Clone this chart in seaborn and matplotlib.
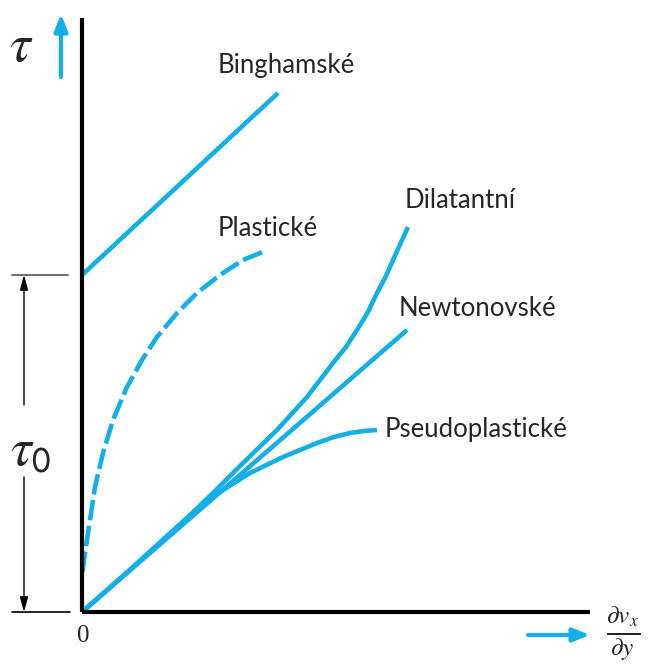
import numpy as np
import pandas as pd
import matplotlib.pyplot as plt
import seaborn as sns

# flow curves, shear rate (x) vs shear stress (y)
bingham_x = [0.0, 19.6]
bingham_y = [33.7, 51.9]

plastic_x = [0.05, 0.3, 0.8, 1.3, 2.1, 3.1, 4.5, 6.0, 7.5, 9.5, 11.5, 13.8, 16.1, 18.3]
plastic_y = [4.0, 5.9, 9.2, 12.5, 15.9, 19.2, 22.5, 25.2, 27.5, 29.9, 31.9, 33.7, 35.2, 36.1]

dilatant_x = [0.0, 5.0, 10.5, 13.1, 16.1, 19.5, 22.5, 25.1, 26.4, 27.5, 28.6, 29.5, 30.4, 31.1, 32.6]
dilatant_y = [0.0, 4.4, 9.4, 11.9, 14.9, 18.2, 21.5, 24.9, 26.5, 28.2, 30.0, 31.9, 33.6, 35.2, 38.5]

newton_x = [0.0, 32.5]
newton_y = [0.0, 28.2]

pseudo_x = [0.0, 5.0, 10.5, 11.8, 14.1, 16.8, 20.1, 23.5, 25.2, 26.8, 28.2, 29.5]
pseudo_y = [0.0, 4.4, 9.4, 10.5, 12.2, 13.9, 15.5, 16.9, 17.5, 17.9, 18.1, 18.2]

tau0 = 33.7

labels = ['Binghamské', 'Plastické', 'Dilatantní', 'Newtonovské', 'Pseudoplastické']

blue = '#14aee8'

sns.set_style('white')
plt.rcParams['mathtext.fontset'] = 'stix'

fig = plt.figure(figsize=(6.49, 6.64), dpi=100)
ax = fig.add_axes([0, 0, 1, 1])
ax.set_xlim(-8.2, 56.7)
ax.set_ylim(-5.2, 61.2)
ax.axis('off')

curves = [
    (bingham_x, bingham_y, '-'),
    (plastic_x, plastic_y, (0, (4.5, 1.2))),
    (dilatant_x, dilatant_y, '-'),
    (newton_x, newton_y, '-'),
    (pseudo_x, pseudo_y, '-'),
]
for xs, ys, ls in curves:
    df = pd.DataFrame({'x': xs, 'y': ys})
    sns.lineplot(data=df, x='x', y='y', ax=ax, color=blue, linewidth=3.3,
                 linestyle=ls, solid_capstyle='butt', dash_capstyle='butt',
                 solid_joinstyle='round')

# axes
ax.plot([0, 0], [0, 59.4], color='black', lw=3, solid_capstyle='butt')
ax.plot([0, 50.8], [0, 0], color='black', lw=3, solid_capstyle='butt')

# blue axis arrows
ax.annotate('', xy=(-2.1, 59.8), xytext=(-2.1, 53.5),
            arrowprops=dict(arrowstyle='-|>,head_length=1.0,head_width=0.4',
                            color=blue, lw=3, shrinkA=0, shrinkB=0))
ax.annotate('', xy=(50.8, -2.3), xytext=(44.6, -2.3),
            arrowprops=dict(arrowstyle='-|>,head_length=1.0,head_width=0.4',
                            color=blue, lw=3, shrinkA=0, shrinkB=0))

ax.text(-6.1, 56.6, r'$\tau$', fontsize=38, ha='center', va='center')
ax.text(0.1, -2.4, '0', fontsize=18, ha='center', va='center', family='Liberation Serif')
ax.text(54.1, -2.2, r'$\frac{\partial v_x}{\partial y}$', fontsize=26, ha='center', va='center')

# tau0 dimension
grey = '#555555'
ax.plot([-7.0, -1.4], [tau0, tau0], color=grey, lw=1.2)
ax.plot([-7.0, -1.2], [0, 0], color='black', lw=1.2)
ax.annotate('', xy=(-5.8, tau0), xytext=(-5.8, 20.7),
            arrowprops=dict(arrowstyle='-|>,head_length=0.9,head_width=0.25',
                            color='black', lw=1.0, shrinkA=0, shrinkB=0))
ax.annotate('', xy=(-5.8, 0), xytext=(-5.8, 13.5),
            arrowprops=dict(arrowstyle='-|>,head_length=0.9,head_width=0.25',
                            color='black', lw=1.0, shrinkA=0, shrinkB=0))
ax.text(-5.1, 16.2, r'$\tau_{\mathsf{0}}$', fontsize=38, ha='center', va='center')

# curve labels
label_pos = [(13.6, 54.7), (13.6, 38.4), (32.3, 41.2), (31.7, 30.4), (30.3, 18.2)]
for text, (lx, ly) in zip(labels, label_pos):
    ax.text(lx, ly, text, fontsize=18.5, ha='left', va='center', family='Lato')

fig.savefig('out.png', dpi=100)
